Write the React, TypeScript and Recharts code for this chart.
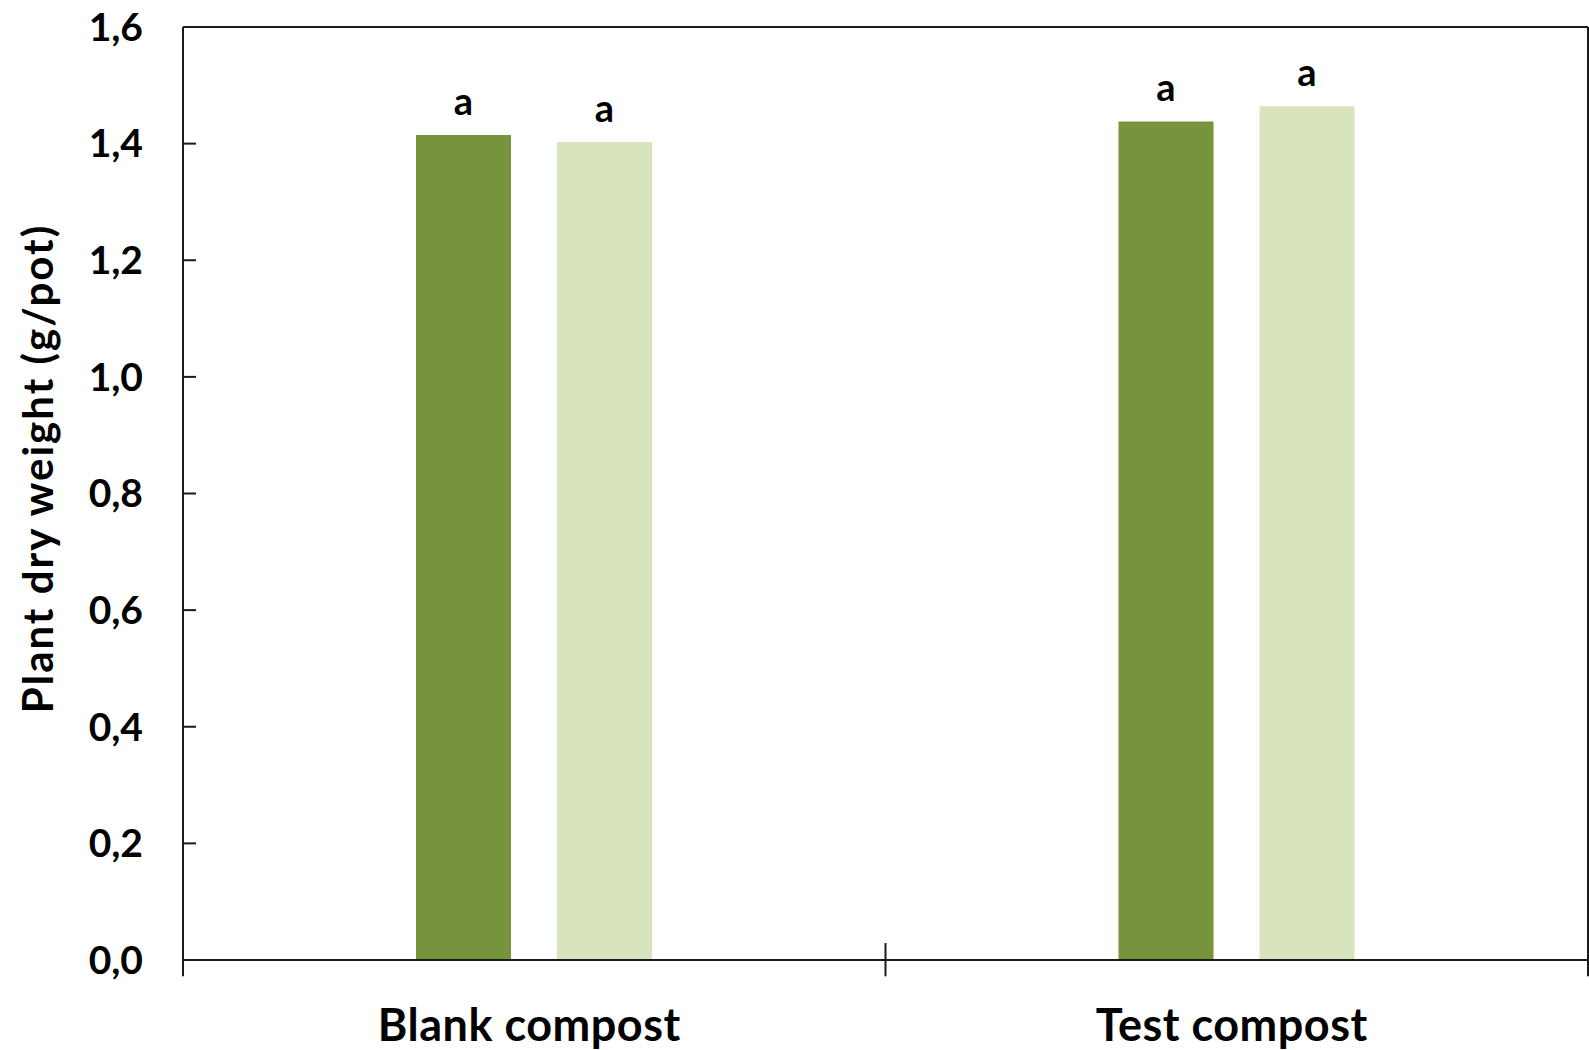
import { BarChart, Bar, XAxis, YAxis, LabelList, ReferenceLine } from 'recharts';

const categories = ['Blank compost', 'Test compost'];
const darkValues = [1.415, 1.438];
const lightValues = [1.403, 1.464];
const darkLetters = ['a', 'a'];
const lightLetters = ['a', 'a'];
const yTicks = [0, 0.2, 0.4, 0.6, 0.8, 1.0, 1.2, 1.4, 1.6];

const data = categories.map((name, i) => ({
  name,
  dark: darkValues[i],
  light: lightValues[i],
  darkSig: darkLetters[i],
  lightSig: lightLetters[i],
}));

const FONT = 'Lato, "Open Sans", sans-serif';
const AXIS = '#1a1a1a';

const fmt = (v: number) => v.toFixed(1).replace('.', ',');

export default function App() {
  return (
    <div style={{ position: 'absolute', left: 0, top: 0, background: '#fff' }}>
      <BarChart
        width={1589}
        height={1050}
        data={data}
        margin={{ top: 27, right: 0, left: 0, bottom: 0 }}
        barGap={46}
        barSize={95}
        style={{ fontFamily: FONT }}
      >
        <XAxis
          dataKey="name"
          height={90}
          axisLine={{ stroke: AXIS, strokeWidth: 2 }}
          tickLine={false}
          tickMargin={43}
          tick={{ fill: '#000', fontSize: 45, fontWeight: 700, fontFamily: FONT, letterSpacing: 0.5, dx: -5 }}
        />
        <YAxis
          width={183}
          domain={[0, 1.6]}
          ticks={yTicks}
          interval={0}
          tickFormatter={fmt}
          tickSize={-13}
          tickMargin={53}
          axisLine={{ stroke: AXIS, strokeWidth: 2 }}
          tickLine={{ stroke: AXIS, strokeWidth: 2 }}
          tick={{ fill: '#000', fontSize: 39, fontWeight: 700, fontFamily: FONT }}
          label={{
            value: 'Plant dry weight (g/pot)',
            angle: -90,
            position: 'center',
            dx: -53,
            dy: -25,
            style: { fill: '#000', fontSize: 42, fontWeight: 700, fontFamily: FONT, textAnchor: 'middle', letterSpacing: 2 },
          }}
        />
        <YAxis
          yAxisId="right"
          orientation="right"
          width={1}
          domain={[0, 1.6]}
          tick={false}
          tickLine={false}
          axisLine={{ stroke: AXIS, strokeWidth: 2 }}
        />
        <ReferenceLine y={1.6} stroke={AXIS} strokeWidth={2} ifOverflow="visible" />
        <ReferenceLine
          segment={[{ x: 'Blank compost', y: 0 }, { x: 'Blank compost', y: -0.028 }]}
          position="start"
          ifOverflow="visible"
          stroke={AXIS}
          strokeWidth={2}
        />
        <ReferenceLine
          segment={[{ x: 'Test compost', y: 0.029 }, { x: 'Test compost', y: -0.028 }]}
          position="start"
          ifOverflow="visible"
          stroke={AXIS}
          strokeWidth={2}
        />
        <ReferenceLine
          segment={[{ x: 'Test compost', y: 0 }, { x: 'Test compost', y: -0.028 }]}
          position="end"
          ifOverflow="visible"
          stroke={AXIS}
          strokeWidth={2}
        />
        <Bar dataKey="dark" fill="#77933C" isAnimationActive={false}>
          <LabelList
            dataKey="darkSig"
            position="top"
            offset={20}
            style={{ fill: '#000', fontSize: 38, fontWeight: 700, fontFamily: FONT }}
          />
        </Bar>
        <Bar dataKey="light" fill="#D7E4BD" isAnimationActive={false}>
          <LabelList
            dataKey="lightSig"
            position="top"
            offset={20}
            style={{ fill: '#000', fontSize: 38, fontWeight: 700, fontFamily: FONT }}
          />
        </Bar>
      </BarChart>
    </div>
  );
}
